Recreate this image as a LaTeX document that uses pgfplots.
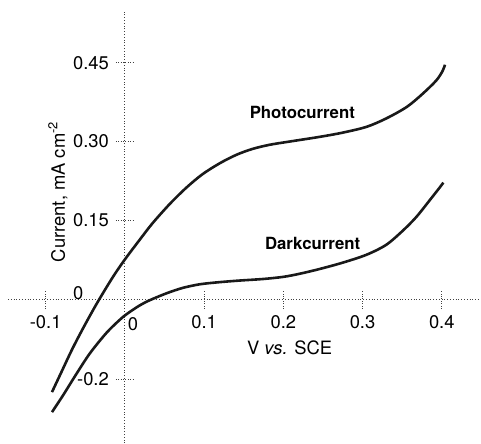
\documentclass[border=0pt]{standalone}
\usepackage{fontspec}
\setmainfont{TeX Gyre Heros}
\usepackage{pgfplots}
\pgfplotsset{compat=1.18}
\begin{document}
\begin{tikzpicture}
\begin{axis}[
  scale only axis, width=236.5pt, height=216pt,
  xmin=-0.1475, xmax=0.449, ymin=-0.273, ymax=0.547,
  axis lines=middle,
  axis line style={densely dotted, black!75, -},
  xtick={-0.1,0,0.1,0.2,0.3,0.4},
  xticklabels={-0.1,,0.1,0.2,0.3,0.4},
  ytick={-0.152,0,0.15,0.30,0.45},
  yticklabels={-0.2,,0.15,0.30,0.45},
  tick style={densely dotted, black!75, thin},
  major tick length=9pt, tick align=center,
  tick label style={font=\fontsize{9.2}{10}\selectfont},
  /pgf/number format/assume math mode=true,
  clip=false,
]
% photocurrent
\addplot[black!90, line width=1.3pt, smooth] coordinates {
(-0.092,-0.176) (-0.082,-0.144) (-0.066,-0.093) (-0.050,-0.047) (-0.034,-0.004)
(-0.015,0.043) (0,0.076) (0.019,0.114) (0.035,0.145) (0.057,0.182)
(0.078,0.213) (0.098,0.238) (0.120,0.259) (0.141,0.275) (0.161,0.286)
(0.183,0.294) (0.212,0.301) (0.246,0.309) (0.275,0.317) (0.305,0.328)
(0.330,0.344) (0.356,0.366) (0.376,0.391) (0.393,0.416) (0.401,0.434)
(0.404,0.446)};
% darkcurrent
\addplot[black!90, line width=1.3pt, smooth] coordinates {
(-0.092,-0.214) (-0.078,-0.182) (-0.061,-0.141) (-0.044,-0.102) (-0.023,-0.063)
(-0.006,-0.038) (0.003,-0.027) (0.019,-0.011) (0.032,-0.001) (0.053,0.012)
(0.073,0.022) (0.095,0.029) (0.120,0.033) (0.145,0.036) (0.175,0.039)
(0.200,0.043) (0.221,0.049) (0.246,0.058) (0.275,0.070) (0.305,0.085)
(0.330,0.104) (0.351,0.131) (0.368,0.157) (0.385,0.189) (0.397,0.212)
(0.402,0.222)};
\node[font=\bfseries\fontsize{8.4}{10}\selectfont] at (axis cs:0.224,0.355) {Photocurrent};
\node[font=\bfseries\fontsize{8.4}{10}\selectfont] at (axis cs:0.237,0.107) {Darkcurrent};
\node[rotate=90, font=\fontsize{9.2}{10}\selectfont] at (axis cs:-0.0845,0.205) {Current, mA cm\textsuperscript{-2}};
\node[font=\fontsize{9.2}{10}\selectfont] at (axis cs:0.208,-0.091) {V \textit{vs.} SCE};
\node[font=\fontsize{9.2}{10}\selectfont] at (axis cs:0.0101,-0.047) {0};
\node[font=\fontsize{9.2}{10}\selectfont] at (axis cs:-0.059,0.013) {0};
\path (axis cs:-0.1576,-0.273) rectangle (axis cs:0.449,0.569);
\end{axis}
\end{tikzpicture}
\end{document}
